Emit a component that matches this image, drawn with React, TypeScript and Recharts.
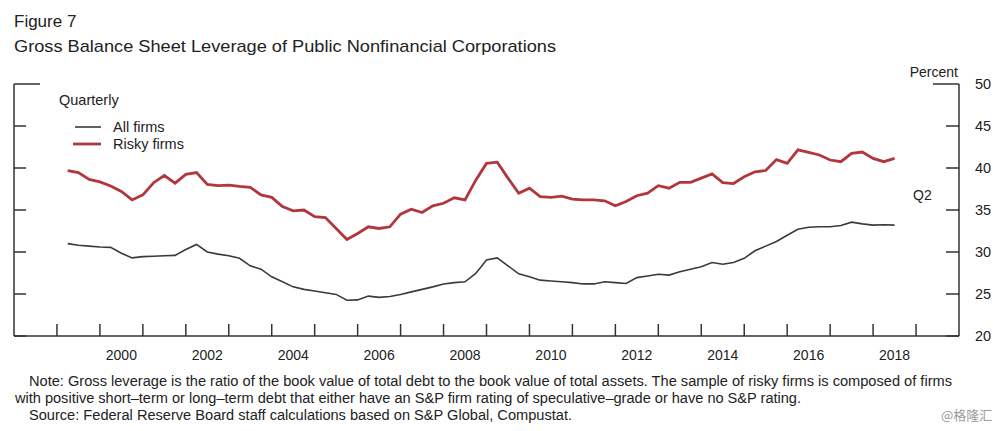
import React from 'react';
import { LineChart, Line, XAxis, YAxis } from 'recharts';

// ---- data ----
const firstYear = 1999;
const quarters: string[] = [];
for (let i = 0; i < 78; i++) {
  quarters.push(`${firstYear + Math.floor(i / 4)}Q${(i % 4) + 1}`);
}

const allFirms: number[] = [
  31.0, 30.8, 30.7, 30.6, 30.55, 29.85, 29.3, 29.45, 29.5, 29.55,
  29.6, 30.3, 30.9, 30.0, 29.75, 29.55, 29.25, 28.35, 27.95, 27.05,
  26.45, 25.85, 25.55, 25.35, 25.15, 24.95, 24.25, 24.3, 24.75, 24.6,
  24.7, 24.95, 25.25, 25.55, 25.85, 26.2, 26.35, 26.45, 27.45, 29.05,
  29.3, 28.35, 27.4, 27.05, 26.65, 26.55, 26.45, 26.35, 26.2, 26.2,
  26.45, 26.35, 26.25, 26.95, 27.15, 27.35, 27.25, 27.65, 27.95, 28.25,
  28.75, 28.55, 28.75, 29.25, 30.15, 30.7, 31.25, 32.0, 32.7, 32.95,
  33.0, 33.0, 33.15, 33.55, 33.35, 33.2, 33.25, 33.2,
];

const riskyFirms: number[] = [
  39.7, 39.45, 38.65, 38.35, 37.85, 37.2, 36.2, 36.8, 38.25, 39.1,
  38.2, 39.25, 39.45, 38.05, 37.9, 37.95, 37.8, 37.7, 36.8, 36.5,
  35.4, 34.9, 35.0, 34.2, 34.1, 32.8, 31.5, 32.2, 33.0, 32.8,
  33.0, 34.5, 35.1, 34.7, 35.5, 35.8, 36.45, 36.2, 38.55, 40.55,
  40.7, 38.8, 37.0, 37.6, 36.6, 36.5, 36.65, 36.3, 36.2, 36.2,
  36.1, 35.5, 36.0, 36.7, 37.0, 37.9, 37.6, 38.3, 38.3, 38.8,
  39.3, 38.25, 38.15, 38.95, 39.55, 39.7, 41.0, 40.55, 42.15, 41.85,
  41.55, 40.95, 40.75, 41.75, 41.9, 41.15, 40.75, 41.15,
];

const yearTicks: number[] = [
  1999, 2000, 2001, 2002, 2003, 2004, 2005, 2006, 2007, 2008, 2009,
  2010, 2011, 2012, 2013, 2014, 2015, 2016, 2017, 2018, 2019,
];
const yearLabels: number[] = [2000, 2002, 2004, 2006, 2008, 2010, 2012, 2014, 2016, 2018];
const percentTicks: number[] = [20, 25, 30, 35, 40, 45, 50];

const noteLines: string[] = [
  'Note: Gross leverage is the ratio of the book value of total debt to the book value of total assets. The sample of risky firms is composed of firms',
  'with positive short\u2013term or long\u2013term debt that either have an S&P firm rating of speculative\u2013grade or have no S&P rating.',
  'Source: Federal Reserve Board staff calculations based on S&P Global, Compustat.',
];

const data = quarters.map((q, i) => {
  const y = parseInt(q.slice(0, 4), 10);
  const qq = parseInt(q.slice(5), 10);
  return { q, t: y + qq * 0.25, all: allFirms[i], risky: riskyFirms[i] };
});

// x ticks: integer years carry tick marks, mid-year positions carry the labels
const xTicks: number[] = [...yearTicks, ...yearLabels.map((y) => y + 0.5)].sort((a, b) => a - b);

const RED = '#b2363b';
const DARK = '#3a3a3a';
const AXIS = '#333';
const TEXT = '#222';
const FONT = '"Liberation Sans", Arial, Helvetica, sans-serif';
const TOP = 50;

const XTick = (props: any) => {
  const { x, y, payload } = props;
  const v = payload.value as number;
  if (Number.isInteger(v)) {
    return <line x1={x} x2={x} y1={y} y2={y - 12} stroke={AXIS} strokeWidth={1.5} />;
  }
  return (
    <text x={x} y={y + 24} textAnchor="middle" fontSize={14} fill={TEXT}>
      {Math.floor(v)}
    </text>
  );
};

const LeftTick = (props: any) => {
  const { x, y, payload } = props;
  const len = payload.value === TOP ? 26 : 12;
  return <line x1={x} x2={x + len} y1={y} y2={y} stroke={AXIS} strokeWidth={1.5} />;
};

const RightTick = (props: any) => {
  const { x, y, payload } = props;
  const len = payload.value === TOP ? 26 : 13;
  return (
    <g>
      <line x1={x - len} x2={x} y1={y} y2={y} stroke={AXIS} strokeWidth={1.5} />
      <text x={x + 16} y={y + 5} fontSize={14.5} fill={TEXT}>{payload.value}</text>
    </g>
  );
};

export default function App() {
  return (
    <div
      style={{
        position: 'absolute', left: 0, top: 0, width: 1000, height: 431,
        background: '#fff', fontFamily: FONT, color: TEXT, overflow: 'hidden',
      }}
    >
      <LineChart
        width={1000}
        height={431}
        data={data}
        margin={{ top: 84, left: 4, right: 1, bottom: 65 }}
        style={{ position: 'absolute', left: 0, top: 0 }}
      >
        <XAxis
          xAxisId="t" type="number" dataKey="t" domain={[1998, 2020]}
          ticks={xTicks} interval={0} tick={<XTick />} tickLine={false}
          tickSize={0} tickMargin={0} height={30}
          stroke={AXIS} strokeWidth={1.5} allowDataOverflow
        />
        <YAxis
          yAxisId="y" orientation="left" domain={[20, 50]} ticks={percentTicks}
          interval={0} tick={<LeftTick />} tickLine={false} tickSize={0} tickMargin={0}
          width={10} stroke={AXIS} strokeWidth={1.5} allowDataOverflow
        />
        <YAxis
          yAxisId="yr" orientation="right" domain={[20, 50]} ticks={percentTicks}
          interval={0} tick={<RightTick />} tickLine={false} tickSize={0} tickMargin={0}
          width={40} stroke={AXIS} strokeWidth={1.5} allowDataOverflow
        />
        <Line
          xAxisId="t" yAxisId="y" type="linear" dataKey="all" stroke={DARK}
          strokeWidth={1.6} dot={false} isAnimationActive={false}
        />
        <Line
          xAxisId="t" yAxisId="y" type="linear" dataKey="risky" stroke={RED}
          strokeWidth={2.8} dot={false} isAnimationActive={false}
        />
      </LineChart>

      <svg width={1000} height={431} style={{ position: 'absolute', left: 0, top: 0, pointerEvents: 'none' }}>
        <g fontFamily={FONT} fill={TEXT}>
          <text x={14} y={27} fontSize={17}>Figure 7</text>
          <text x={14} y={52} fontSize={17} textLength={542} lengthAdjust="spacingAndGlyphs">
            Gross Balance Sheet Leverage of Public Nonfinancial Corporations
          </text>

          <text x={958} y={77} fontSize={14} textAnchor="end">Percent</text>

          <text x={59} y={105} fontSize={14.5}>Quarterly</text>
          <line x1={75} x2={101} y1={127} y2={127} stroke={DARK} strokeWidth={1.6} />
          <text x={113} y={132} fontSize={14.5}>All firms</text>
          <line x1={73} x2={101} y1={144} y2={144} stroke={RED} strokeWidth={2.8} />
          <text x={113} y={149} fontSize={14.5}>Risky firms</text>

          <text x={913} y={200} fontSize={14}>Q2</text>

          <text x={29} y={386} fontSize={14} textLength={923} lengthAdjust="spacingAndGlyphs">{noteLines[0]}</text>
          <text x={15} y={403} fontSize={14} textLength={786} lengthAdjust="spacingAndGlyphs">{noteLines[1]}</text>
          <text x={29} y={420} fontSize={14} textLength={543} lengthAdjust="spacingAndGlyphs">{noteLines[2]}</text>

          <text x={941} y={420} fontSize={13} fill="#9a9a9a" fontFamily='"Noto Sans CJK SC", sans-serif'>@格隆汇</text>
        </g>
      </svg>
    </div>
  );
}
